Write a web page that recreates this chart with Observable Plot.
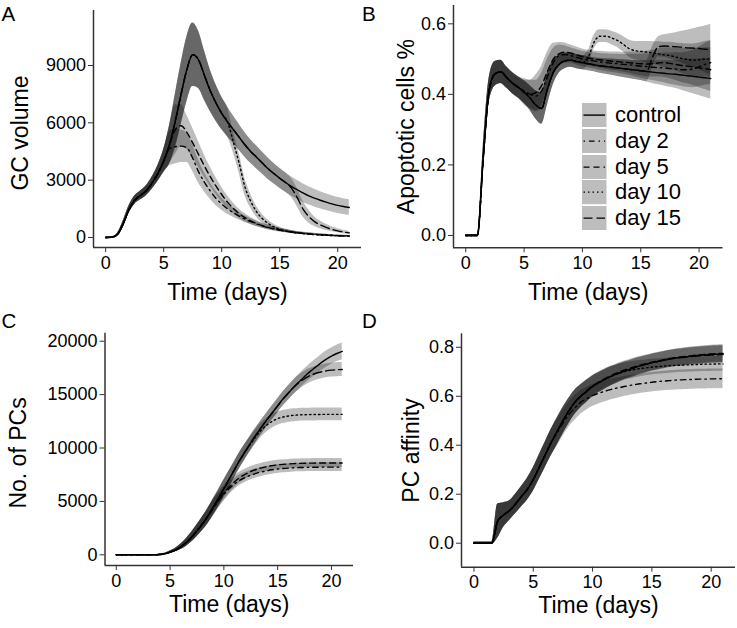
<!DOCTYPE html>
<html>
<head>
<meta charset="utf-8">
<script src="https://cdn.jsdelivr.net/npm/d3@7"></script>
<script src="https://cdn.jsdelivr.net/npm/@observablehq/plot@0.6"></script>
<style>
  body { margin: 0; background: #fff; }
  #fig { position: relative; width: 737px; height: 628px; overflow: hidden;
         font-family: "Liberation Sans", Arial, Helvetica, sans-serif; color: #111; }
  #fig svg.panel { position: absolute; left: 0; top: 0; }
  .legend { position: absolute; left: 582px; top: 103.3px; }
  .legend .row { position: absolute; left: 0; height: 24.2px; white-space: nowrap; }
  .legend .row svg { position: absolute; left: 0; top: 0; }
  .legend .row span { position: absolute; left: 33px; top: 0; font-size: 22px; line-height: 24.2px; color: #000; }
</style>
</head>
<body>
<div id="fig"></div>
<script>
// ---------- data ----------
const seriesNames = ["control", "day 2", "day 5", "day 10", "day 15"];
const time = [0,0.5,1,1.5,2,2.5,3,3.5,4,4.5,
  5,5.5,6,6.5,7,7.5,8,8.5,9,9.5,
  10,10.5,11,11.5,12,12.5,13,13.5,14,14.5,
  15,15.5,16,16.5,17,17.5,18,18.5,19,19.5,
  20,20.5,21];
const xTicks = [0, 5, 10, 15, 20];

// A: GC volume
const gcTicks = [0, 3000, 6000, 9000];
const gcControl = [0,10,150,700,1450,1950,2200,2450,2850,3350,
  4000,4850,6100,7500,8800,9570,9300,8500,7700,7050,
  6500,6050,5650,5250,4850,4500,4200,3900,3600,3350,
  3100,2880,2680,2500,2330,2180,2060,1950,1850,1760,
  1680,1620,1570];
const gcDay2 = [0,10,150,700,1450,1950,2200,2450,2850,3350,
  4000,4650,4750,4780,4700,4150,3450,2900,2450,2050,
  1750,1500,1300,1120,960,830,710,610,520,450,
  390,340,290,250,220,190,170,150,130,115,
  100,90,80];
const gcDay5 = [0,10,150,700,1450,1950,2200,2450,2850,3350,
  4000,4850,5650,5850,5500,4950,4350,3750,3200,2700,
  2250,1850,1520,1250,1040,870,730,620,530,450,
  390,335,290,250,215,185,160,140,120,105,
  90,80,70];
const gcDay10 = [0,10,150,700,1450,1950,2200,2450,2850,3350,
  4000,4850,6100,7500,8800,9570,9300,8500,7700,7050,
  6500,6050,5000,3900,2650,1900,1350,990,740,560,
  440,350,290,240,205,175,150,130,115,100,
  90,80,75];
const gcDay15 = [0,10,150,700,1450,1950,2200,2450,2850,3350,
  4000,4850,6100,7500,8800,9570,9300,8500,7700,7050,
  6500,6050,5650,5250,4850,4500,4200,3900,3600,3350,
  3100,2880,2600,2100,1500,1100,830,660,530,430,
  350,290,240];
const gcControlSd = [10,20,60,150,200,220,230,260,320,420,
  600,1000,1400,1600,1700,1650,1500,1300,1100,950,
  850,780,720,680,650,620,600,580,560,540,
  520,510,500,490,480,470,460,450,440,430,
  420,410,400];
const gcDay2Sd = [10,20,60,150,200,220,230,260,320,420,
  600,900,900,850,780,700,600,500,430,370,
  320,280,240,210,180,160,140,125,110,100,
  90,80,70,65,60,55,50,45,40,38,
  35,32,30];
const gcDay5Sd = [10,20,60,150,200,220,230,260,320,420,
  600,1000,1300,1100,900,780,670,580,500,440,
  380,330,280,240,210,180,160,140,125,110,
  100,90,80,70,65,60,55,50,45,40,
  38,35,32];
const gcDay10Sd = [10,20,60,150,200,220,230,260,320,420,
  600,1000,1400,1600,1700,1650,1500,1300,1100,950,
  850,780,550,520,450,360,280,220,170,135,
  110,90,75,65,55,50,45,40,36,33,
  30,28,26];
const gcDay15Sd = [10,20,60,150,200,220,230,260,320,420,
  600,1000,1400,1600,1700,1650,1500,1300,1100,950,
  850,780,720,680,650,620,600,580,560,540,
  520,510,500,480,420,340,260,200,160,130,
  105,90,80];

// B: Apoptotic cells %
const apTicks = [0, 0.2, 0.4, 0.6];
const apControl = [0,0,0,0.22,0.41,0.458,0.464,0.448,0.432,0.42,
  0.407,0.39,0.37,0.36,0.415,0.462,0.485,0.495,0.497,0.493,
  0.49,0.487,0.484,0.481,0.479,0.477,0.475,0.473,0.471,0.469,
  0.467,0.465,0.463,0.461,0.46,0.458,0.457,0.455,0.453,0.451,
  0.449,0.447,0.445];
const apDay2 = [0,0,0,0.22,0.41,0.458,0.464,0.448,0.432,0.42,
  0.41,0.40,0.395,0.41,0.45,0.49,0.51,0.513,0.51,0.505,
  0.50,0.497,0.495,0.492,0.49,0.488,0.487,0.485,0.484,0.482,
  0.48,0.479,0.477,0.476,0.475,0.473,0.472,0.47,0.47,0.472,
  0.478,0.485,0.49];
const apDay5 = [0,0,0,0.22,0.41,0.458,0.464,0.448,0.432,0.42,
  0.405,0.40,0.405,0.425,0.465,0.50,0.515,0.52,0.517,0.512,
  0.507,0.503,0.50,0.498,0.496,0.494,0.493,0.491,0.49,0.488,
  0.487,0.486,0.487,0.489,0.49,0.488,0.485,0.482,0.48,0.478,
  0.475,0.473,0.47];
const apDay10 = [0,0,0,0.22,0.41,0.458,0.464,0.448,0.432,0.42,
  0.407,0.39,0.37,0.36,0.415,0.462,0.485,0.495,0.497,0.493,
  0.49,0.505,0.548,0.565,0.565,0.56,0.553,0.542,0.53,0.524,
  0.522,0.52,0.518,0.515,0.512,0.51,0.506,0.502,0.499,0.497,
  0.498,0.50,0.50];
const apDay15 = [0,0,0,0.22,0.41,0.458,0.464,0.448,0.432,0.42,
  0.407,0.39,0.37,0.36,0.415,0.462,0.485,0.495,0.497,0.493,
  0.49,0.487,0.484,0.481,0.479,0.477,0.475,0.473,0.471,0.469,
  0.467,0.466,0.505,0.535,0.537,0.536,0.535,0.534,0.532,0.531,
  0.53,0.528,0.527];
const apControlSd = [0.003,0.003,0.003,0.03,0.035,0.035,0.033,0.03,0.03,0.03,
  0.032,0.035,0.04,0.045,0.045,0.035,0.025,0.022,0.02,0.02,
  0.02,0.02,0.02,0.021,0.022,0.023,0.024,0.025,0.026,0.027,
  0.028,0.03,0.032,0.034,0.036,0.038,0.04,0.043,0.046,0.049,
  0.052,0.055,0.058];
const apDay2Sd = [0.003,0.003,0.003,0.03,0.035,0.035,0.033,0.03,0.03,0.03,
  0.035,0.04,0.045,0.05,0.05,0.04,0.03,0.025,0.022,0.022,
  0.022,0.022,0.023,0.024,0.025,0.026,0.027,0.028,0.03,0.032,
  0.034,0.036,0.038,0.04,0.042,0.044,0.046,0.048,0.05,0.053,
  0.056,0.059,0.062];
const apDay5Sd = [0.003,0.003,0.003,0.03,0.035,0.035,0.033,0.03,0.03,0.03,
  0.035,0.04,0.05,0.055,0.055,0.045,0.032,0.026,0.023,0.022,
  0.022,0.022,0.023,0.024,0.025,0.026,0.027,0.028,0.03,0.032,
  0.034,0.036,0.038,0.04,0.042,0.044,0.046,0.048,0.05,0.053,
  0.056,0.059,0.062];
const apDay10Sd = [0.003,0.003,0.003,0.03,0.035,0.035,0.033,0.03,0.03,0.03,
  0.032,0.035,0.04,0.045,0.045,0.035,0.025,0.022,0.02,0.02,
  0.02,0.02,0.02,0.018,0.018,0.019,0.02,0.022,0.024,0.026,
  0.028,0.03,0.032,0.034,0.036,0.038,0.04,0.042,0.044,0.046,
  0.048,0.05,0.052];
const apDay15Sd = [0.003,0.003,0.003,0.03,0.035,0.035,0.033,0.03,0.03,0.03,
  0.032,0.035,0.04,0.045,0.045,0.035,0.025,0.022,0.02,0.02,
  0.02,0.02,0.02,0.021,0.022,0.023,0.024,0.025,0.026,0.027,
  0.028,0.03,0.03,0.028,0.032,0.036,0.04,0.045,0.05,0.055,
  0.06,0.066,0.072];

// C: No. of PCs
const pcTicks = [0, 5000, 10000, 15000, 20000];
const pcControl = [0,0,0,0,0,0,0,5,30,90,
  250,450,750,1150,1650,2250,2900,3600,4450,5300,
  6200,7100,8000,8900,9700,10500,11250,11950,12650,13300,
  13950,14600,15150,15700,16200,16700,17150,17550,17950,18300,
  18600,18850,19050];
const pcDay2 = [0,0,0,0,0,0,0,5,30,90,
  250,450,750,1150,1650,2250,2900,3600,4350,5050,
  5650,6200,6650,7000,7250,7450,7620,7760,7870,7960,
  8030,8080,8120,8150,8170,8185,8195,8200,8205,8210,
  8210,8210,8210];
const pcDay5 = [0,0,0,0,0,0,0,5,30,90,
  250,450,750,1150,1650,2250,2900,3600,4400,5150,
  5800,6350,6850,7250,7550,7800,7990,8140,8260,8350,
  8420,8470,8510,8540,8560,8575,8585,8590,8595,8600,
  8600,8600,8600];
const pcDay10 = [0,0,0,0,0,0,0,5,30,90,
  250,450,750,1150,1650,2250,2900,3600,4450,5300,
  6200,7100,8000,8900,9700,10400,11100,11700,12150,12500,
  12750,12900,13000,13060,13100,13120,13130,13140,13145,13150,
  13150,13150,13150];
const pcDay15 = [0,0,0,0,0,0,0,5,30,90,
  250,450,750,1150,1650,2250,2900,3600,4450,5300,
  6200,7100,8000,8900,9700,10500,11250,11950,12650,13300,
  13950,14600,15150,15700,16150,16500,16780,16980,17120,17220,
  17290,17330,17350];
const pcControlSd = [0,0,0,0,0,0,0,5,20,50,
  100,170,260,360,460,560,650,720,780,800,
  800,790,770,750,720,700,680,670,660,660,
  660,670,680,690,700,710,720,730,740,750,
  760,770,780];
const pcDay2Sd = [0,0,0,0,0,0,0,5,20,50,
  100,170,260,360,460,560,650,720,750,700,
  640,580,530,490,460,440,430,420,415,410,
  408,406,404,402,400,400,400,400,400,400,
  400,400,400];
const pcDay5Sd = [0,0,0,0,0,0,0,5,20,50,
  100,170,260,360,460,560,650,720,760,720,
  660,600,550,510,480,460,450,440,435,430,
  428,426,424,422,420,420,420,420,420,420,
  420,420,420];
const pcDay10Sd = [0,0,0,0,0,0,0,5,20,50,
  100,170,260,360,460,560,650,720,780,800,
  800,790,770,750,720,700,680,660,640,630,
  620,615,610,605,600,600,600,600,600,600,
  600,600,600];
const pcDay15Sd = [0,0,0,0,0,0,0,5,20,50,
  100,170,260,360,460,560,650,720,780,800,
  800,790,770,750,720,700,680,670,660,660,
  660,670,680,690,690,680,670,660,650,650,
  650,650,650];

// D: PC affinity
const afTicks = [0, 0.2, 0.4, 0.6, 0.8];
const afControl = [0,0,0,0,0.09,0.115,0.133,0.16,0.19,0.22,
  0.26,0.31,0.36,0.41,0.455,0.50,0.54,0.575,0.60,0.62,
  0.64,0.655,0.668,0.68,0.69,0.70,0.708,0.716,0.724,0.73,
  0.737,0.742,0.747,0.752,0.756,0.759,0.762,0.765,0.767,0.769,
  0.771,0.772,0.773];
const afDay2 = [0,0,0,0,0.09,0.115,0.133,0.16,0.19,0.22,
  0.26,0.31,0.36,0.41,0.45,0.49,0.525,0.552,0.575,0.59,
  0.603,0.612,0.62,0.627,0.633,0.638,0.643,0.647,0.651,0.654,
  0.657,0.66,0.662,0.664,0.666,0.667,0.668,0.669,0.67,0.67,
  0.671,0.671,0.672];
const afDay5 = [0,0,0,0,0.09,0.115,0.133,0.16,0.19,0.22,
  0.26,0.31,0.36,0.41,0.455,0.50,0.54,0.575,0.60,0.622,
  0.642,0.658,0.671,0.683,0.694,0.704,0.712,0.72,0.727,0.733,
  0.739,0.744,0.749,0.754,0.758,0.761,0.764,0.767,0.769,0.771,
  0.773,0.774,0.775];
const afDay10 = [0,0,0,0,0.09,0.115,0.133,0.16,0.19,0.22,
  0.26,0.31,0.36,0.41,0.455,0.50,0.54,0.575,0.60,0.62,
  0.64,0.655,0.668,0.68,0.69,0.698,0.704,0.709,0.713,0.716,
  0.719,0.721,0.723,0.725,0.726,0.727,0.728,0.729,0.73,0.731,
  0.731,0.732,0.732];
const afDay15 = [0,0,0,0,0.09,0.115,0.133,0.16,0.19,0.22,
  0.26,0.31,0.36,0.41,0.455,0.50,0.54,0.575,0.60,0.62,
  0.64,0.655,0.668,0.68,0.69,0.70,0.708,0.716,0.724,0.73,
  0.737,0.742,0.747,0.752,0.756,0.758,0.761,0.763,0.765,0.767,
  0.768,0.769,0.77];
const afControlSd = [0.005,0.005,0.005,0.005,0.07,0.05,0.04,0.04,0.042,0.045,
  0.048,0.05,0.052,0.054,0.055,0.054,0.052,0.05,0.047,0.045,
  0.043,0.041,0.04,0.039,0.038,0.037,0.036,0.036,0.035,0.035,
  0.035,0.035,0.035,0.035,0.035,0.035,0.035,0.035,0.035,0.035,
  0.035,0.035,0.035];
const afDay2Sd = [0.005,0.005,0.005,0.005,0.07,0.05,0.04,0.04,0.042,0.045,
  0.048,0.05,0.052,0.054,0.055,0.054,0.052,0.05,0.048,0.046,
  0.045,0.044,0.043,0.042,0.042,0.041,0.041,0.04,0.04,0.04,
  0.04,0.04,0.04,0.04,0.04,0.04,0.04,0.04,0.04,0.04,
  0.04,0.04,0.04];
const afDay5Sd = [0.005,0.005,0.005,0.005,0.07,0.05,0.04,0.04,0.042,0.045,
  0.048,0.05,0.052,0.054,0.055,0.054,0.052,0.05,0.047,0.045,
  0.043,0.041,0.04,0.039,0.038,0.037,0.036,0.036,0.035,0.035,
  0.035,0.035,0.035,0.035,0.035,0.035,0.035,0.035,0.035,0.035,
  0.035,0.035,0.035];
const afDay10Sd = [0.005,0.005,0.005,0.005,0.07,0.05,0.04,0.04,0.042,0.045,
  0.048,0.05,0.052,0.054,0.055,0.054,0.052,0.05,0.047,0.045,
  0.043,0.041,0.04,0.039,0.038,0.036,0.035,0.034,0.033,0.032,
  0.032,0.031,0.031,0.031,0.03,0.03,0.03,0.03,0.03,0.03,
  0.03,0.03,0.03];
const afDay15Sd = [0.005,0.005,0.005,0.005,0.07,0.05,0.04,0.04,0.042,0.045,
  0.048,0.05,0.052,0.054,0.055,0.054,0.052,0.05,0.047,0.045,
  0.043,0.041,0.04,0.039,0.038,0.037,0.036,0.036,0.035,0.035,
  0.035,0.035,0.035,0.035,0.035,0.035,0.035,0.035,0.035,0.035,
  0.035,0.035,0.035];

// ---------- styles ----------
const dashes = {"control": null, "day 2": "1.5,4,5.5,4", "day 5": "6,4", "day 10": "1.5,3", "day 15": "9,4"};
const bandOpacity = 0.26;
const W = 737, H = 628;
const FONT = "'Liberation Sans', Arial, Helvetica, sans-serif";

const panels = [
  {letter: "A", means: [gcControl, gcDay2, gcDay5, gcDay10, gcDay15],
   sds: [gcControlSd, gcDay2Sd, gcDay5Sd, gcDay10Sd, gcDay15Sd],
   xRange: [93, 361], yDomain: [-523, 11878], yRange: [247, 10],
   yTicks: gcTicks, yFormat: d3.format("d"), yTitle: "GC volume",
   yTitleX: 27, yTitleDy: 4, xTitleDy: 52.5},
  {letter: "B", means: [apControl, apDay2, apDay5, apDay10, apDay15],
   sds: [apControlSd, apDay2Sd, apDay5Sd, apDay10Sd, apDay15Sd],
   xRange: [453, 722.5], yDomain: [-0.035, 0.652], yRange: [247.3, 5],
   yTicks: apTicks, yFormat: d3.format(".1f"), yTitle: "Apoptotic cells %",
   yTitleX: 413, yTitleDy: 0, xTitleDy: 52.2},
  {letter: "C", means: [pcControl, pcDay2, pcDay5, pcDay10, pcDay15],
   sds: [pcControlSd, pcDay2Sd, pcDay5Sd, pcDay10Sd, pcDay15Sd],
   xRange: [104.5, 353], yDomain: [-1000, 20750], yRange: [565, 332.7],
   yTicks: pcTicks, yFormat: d3.format("d"), yTitle: "No. of PCs",
   yTitleX: 25, yTitleDy: 3.6, xTitleDy: 46},
  {letter: "D", means: [afControl, afDay2, afDay5, afDay10, afDay15],
   sds: [afControlSd, afDay2Sd, afDay5Sd, afDay10Sd, afDay15Sd],
   xRange: [461, 735], yDomain: [-0.098, 0.855], yRange: [566.7, 333.3],
   yTicks: afTicks, yFormat: d3.format(".1f"), yTitle: "PC affinity",
   yTitleX: 418, yTitleDy: 0, xTitleDy: 45.3}
];

const xDomain = [-1.05, 22.05];
const fig = document.getElementById("fig");

for (const p of panels) {
  const rows = [];
  seriesNames.forEach((s, k) => {
    time.forEach((t, i) => {
      const v = p.means[k][i], sd = p.sds[k][i];
      rows.push({s, t, v, lo: v - sd, hi: v + sd});
    });
  });
  const marks = [
    Plot.areaY(rows, {x: "t", y1: "lo", y2: "hi", z: "s", fill: "black", fillOpacity: bandOpacity, curve: "monotone-x"})
  ];
  for (const s of seriesNames) {
    marks.push(Plot.line(rows.filter(r => r.s === s), {
      x: "t", y: "v", stroke: "black", strokeWidth: 1.4,
      strokeDasharray: dashes[s] || undefined, curve: "monotone-x"
    }));
  }
  marks.push(
    Plot.ruleX([xDomain[0]], {stroke: "#333", strokeWidth: 1.5}),
    Plot.ruleY([p.yDomain[0]], {stroke: "#333", strokeWidth: 1.5}),
    Plot.axisX({ticks: xTicks, tickSize: 5, tickPadding: 3.5, label: null, fontSize: 18, stroke: "#333"}),
    Plot.axisY({ticks: p.yTicks, tickFormat: p.yFormat, tickSize: 5, tickPadding: 2.5, label: null, fontSize: 18, stroke: "#333"}),
    Plot.text(["Time (days)"], {text: d => d, frameAnchor: "bottom", textAnchor: "middle", dy: p.xTitleDy, lineAnchor: "bottom", fontSize: 23, fill: "#000"}),
    Plot.text([p.yTitle], {text: d => d, frameAnchor: "left", textAnchor: "middle", rotate: -90, dx: p.yTitleX - p.xRange[0], dy: p.yTitleDy, lineAnchor: "bottom", fontSize: 23, fill: "#000"})
  );
  const svg = Plot.plot({
    width: W, height: H,
    marginLeft: p.xRange[0], marginRight: W - p.xRange[1],
    marginTop: p.yRange[1], marginBottom: H - p.yRange[0],
    x: {domain: xDomain},
    y: {domain: p.yDomain},
    style: {background: "transparent", fontFamily: FONT, fontSize: "18px", color: "#000", overflow: "visible"},
    marks
  });
  svg.classList.add("panel");
  fig.appendChild(svg);
}

// panel letters
const ns = "http://www.w3.org/2000/svg";
const over = document.createElementNS(ns, "svg");
over.setAttribute("width", W); over.setAttribute("height", H);
over.setAttribute("class", "panel");
over.style.pointerEvents = "none";
const letterPos = {A: [1.5, 20.7], B: [362, 20.7], C: [1.5, 328.3], D: [362, 328.3]};
for (const p of panels) {
  const t = document.createElementNS(ns, "text");
  t.setAttribute("x", letterPos[p.letter][0]);
  t.setAttribute("y", letterPos[p.letter][1]);
  t.setAttribute("font-size", "20.5");
  t.setAttribute("font-family", FONT);
  t.setAttribute("fill", "#000");
  t.textContent = p.letter;
  over.appendChild(t);
}
fig.appendChild(over);

// legend (panel B)
const legend = document.createElement("div");
legend.className = "legend";
seriesNames.forEach((s, i) => {
  const row = document.createElement("div");
  row.className = "row";
  row.style.top = (i * 25.7) + "px";
  const key = document.createElementNS(ns, "svg");
  key.setAttribute("width", 24.5); key.setAttribute("height", 24.2);
  const rect = document.createElementNS(ns, "rect");
  rect.setAttribute("width", 24.5); rect.setAttribute("height", 24.2);
  rect.setAttribute("fill", "black"); rect.setAttribute("fill-opacity", bandOpacity);
  key.appendChild(rect);
  const ln = document.createElementNS(ns, "line");
  ln.setAttribute("x1", 1.5); ln.setAttribute("x2", 23);
  ln.setAttribute("y1", 12.1); ln.setAttribute("y2", 12.1);
  ln.setAttribute("stroke", "black"); ln.setAttribute("stroke-width", 1.4);
  if (dashes[s]) ln.setAttribute("stroke-dasharray", dashes[s]);
  key.appendChild(ln);
  row.appendChild(key);
  const lab = document.createElement("span");
  lab.textContent = s;
  row.appendChild(lab);
  legend.appendChild(row);
});
fig.appendChild(legend);
</script>
</body>
</html>
